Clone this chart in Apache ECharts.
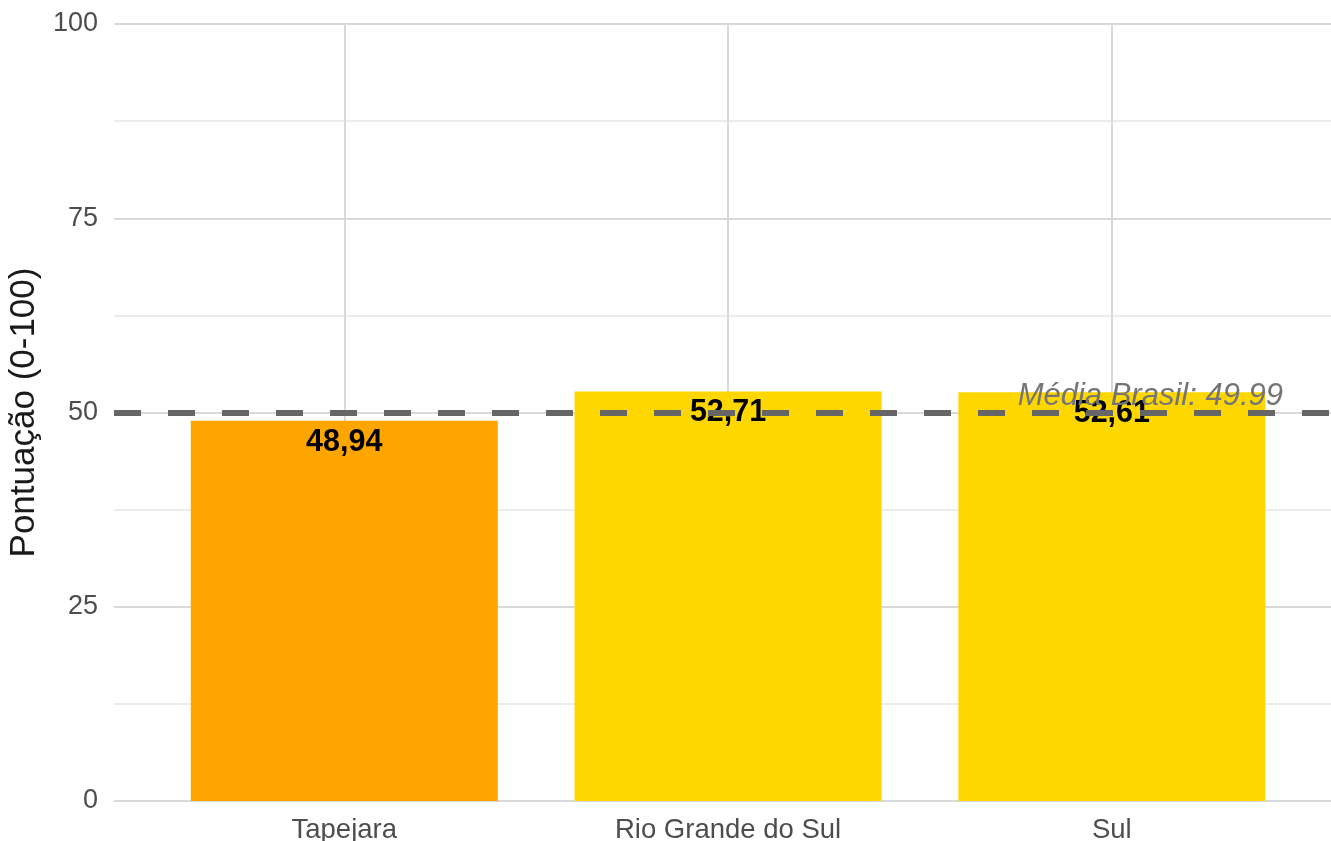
<!DOCTYPE html>
<html>
<head>
<meta charset="utf-8">
<script src="https://cdn.jsdelivr.net/npm/echarts@6/dist/echarts.min.js"></script>
<style>html,body{margin:0;padding:0;background:#fff}#c{width:1331px;height:841px}</style>
</head>
<body>
<div id="c"></div>
<script>
var categories = ['Tapejara', 'Rio Grande do Sul', 'Sul'];
var values = [48.94, 52.71, 52.61];
var barColors = ['#FFA500', '#FFD700', '#FFD700'];
var mediaBrasil = 49.99;
var yTicks = [0, 25, 50, 75, 100];

var chart = echarts.init(document.getElementById('c'));
var font = 'Liberation Sans, Arial, sans-serif';
var barData = values.map(function (v, i) {
  return { value: [i + 1, v], itemStyle: { color: barColors[i] } };
});
chart.setOption({
  animation: false,
  backgroundColor: '#ffffff',
  grid: { left: 114, right: 0, top: 24, bottom: 40, containLabel: false, outerBoundsMode: 'none' },
  xAxis: {
    type: 'value', min: 0.4, max: 3.571,
    axisLine: { show: false },
    axisTick: { show: false, customValues: [1, 2, 3] },
    axisLabel: {
      customValues: [1, 2, 3],
      formatter: function (v) { return categories[Math.round(v) - 1] || ''; },
      color: '#4d4d4d', fontSize: 27.5, fontFamily: font, margin: 15
    },
    splitLine: { show: true, lineStyle: { color: '#d9d9d9', width: 2 } }
  },
  yAxis: {
    type: 'value', min: yTicks[0], max: yTicks[yTicks.length - 1], interval: 25,
    name: 'Pontuação (0-100)', nameLocation: 'middle', nameGap: 68,
    nameTextStyle: { color: '#1a1a1a', fontSize: 35, fontFamily: font },
    axisLine: { show: false }, axisTick: { show: false },
    axisLabel: { color: '#4d4d4d', fontSize: 27, fontFamily: font, margin: 16 },
    splitLine: { show: true, lineStyle: { color: '#d9d9d9', width: 2 } },
    minorTick: { show: false, splitNumber: 2 },
    minorSplitLine: { show: true, lineStyle: { color: '#e6e6e6', width: 1.5 } }
  },
  series: [
    {
      type: 'bar', data: barData, barWidth: 307, z: 2,
      label: {
        show: true, position: 'insideTop', distance: 6,
        formatter: function (p) { return p.value[1].toFixed(2).replace('.', ','); },
        color: '#000', fontWeight: 'bold', fontSize: 30.5, fontFamily: font
      }
    },
    {
      type: 'line', data: [], z: 10, silent: true,
      markLine: {
        symbol: 'none', silent: true, animation: false,
        lineStyle: { color: '#666666', width: 6, type: [27, 27] },
        label: {
          show: true, position: 'insideEndTop', distance: [48, 1],
          formatter: 'Média Brasil: ' + mediaBrasil.toFixed(2),
          color: '#757575', fontStyle: 'italic', fontSize: 31, fontFamily: font
        },
        data: [{ yAxis: mediaBrasil }]
      }
    }
  ]
});
</script>
</body>
</html>
